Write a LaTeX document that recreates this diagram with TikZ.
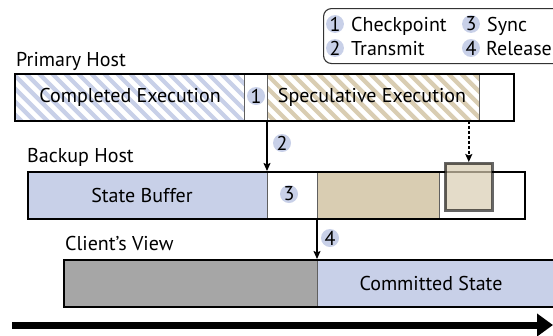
\documentclass[tikz,border=0pt]{standalone}
\usepackage{fontspec}
\setmainfont{PT Sans}
\usetikzlibrary{arrows.meta}

\definecolor{execblue}{RGB}{200,208,232}
\definecolor{spectan}{RGB}{217,205,178}
\definecolor{hidegray}{RGB}{166,166,166}
\definecolor{edgegray}{RGB}{95,95,95}

\tikzset{
  txt/.style={inner sep=0pt, font=\fontsize{20}{24}\selectfont},
  seg/.style={draw=edgegray, line width=0.7pt, minimum height=47pt, inner sep=0pt, anchor=north west},
  frame/.style={draw=black, line width=2.4pt, minimum height=47pt, inner sep=0pt, anchor=north west},
  hatched/.style={path picture={
      \foreach \k in {-60,-47,...,560}
        \draw[white, line width=4.6pt]
          ([xshift=\k pt]path picture bounding box.north west) -- ++(60,60);}},
  badge/.style={circle, fill=execblue, minimum size=18pt, inner sep=0pt, font=\fontsize{20}{24}\selectfont},
  keybadge/.style={badge, minimum size=16.5pt},
  hostlabel/.style={txt, anchor=base west},
  flow/.style={-{Stealth[length=8pt,width=7pt,inset=1.5pt]}, line width=1.5pt},
  newbox/.style={fill=spectan, fill opacity=0.7, draw=black, draw opacity=0.6, line width=2.6pt,
    minimum width=47pt, minimum height=47pt, inner sep=0pt, anchor=north west},
}

\begin{document}
\begin{tikzpicture}[x=1pt, y=-1pt]
  \useasboundingbox (0,0) rectangle (553,335);
  \clip (0,0) rectangle (553,335);

  % legend
  \node[draw=black!80, line width=1.1pt, rounded corners=8pt, minimum width=280pt, minimum height=55pt,
        anchor=north west, inner sep=0pt] (legend) at (323,8) {};
  \node[keybadge] (k1) at (335,24) {1};
  \node[hostlabel] (k1t) at (351,31) {Checkpoint};
  \node[keybadge] (k3) at (471,24) {3};
  \node[hostlabel] (k3t) at (487,31) {Sync};
  \node[keybadge] (k2) at (335,48) {2};
  \node[hostlabel] (k2t) at (351,55) {Transmit};
  \node[keybadge] (k4) at (471,48) {4};
  \node[hostlabel] (k4t) at (486,55) {Release};

  % primary host
  \node[hostlabel] (plabel) at (16,66) {Primary Host};
  \node[seg, fill=execblue, hatched, minimum width=230pt] (completed) at (14,73) {};
  \node[seg, minimum width=23pt] (ckpt) at (244,73) {};
  \node[seg, fill=spectan, hatched, minimum width=212pt] (spec) at (267,73) {};
  \node[seg, minimum width=34pt] (ptail) at (479,73) {};
  \node[frame, minimum width=499pt] (primary) at (14,73) {};
  \node[txt] (ctext) at (130,97) {Completed Execution};
  \node[txt] (stext) at (372,97) {Speculative Execution};
  \node[badge] (b1) at (256,96) {1};

  % backup host
  \node[hostlabel] (blabel) at (27,162) {Backup Host};
  \node[seg, fill=execblue, minimum width=240pt] (buffer) at (27,171) {};
  \node[seg, minimum width=50pt] (sync) at (267,171) {};
  \node[seg, fill=spectan, minimum width=122pt] (pending) at (317,171) {};
  \node[seg, minimum width=85pt] (btail) at (439,171) {};
  \node[frame, minimum width=497pt] (backup) at (27,171) {};
  \node[txt] (btext) at (142,195) {State Buffer};
  \node[badge] (b3) at (289,194) {3};
  \node[newbox] (incoming) at (444,162) {};

  % client view
  \node[hostlabel] (clabel) at (65,250) {Client’s View};
  \node[seg, fill=hidegray, minimum width=254pt] (hidden) at (63,259) {};
  \node[seg, fill=execblue, minimum width=300pt] (committed) at (317,259) {};
  \node[frame, minimum width=554pt] (client) at (63,259) {};
  \node[txt] (vtext) at (431,283) {Committed State};

  % transfers between hosts
  \draw[flow] (spec.south west) -- (sync.north west);
  \node[badge] (b2) at (282,143) {2};
  \draw[flow, dashed, dash pattern=on 3pt off 2pt] (incoming.north |- spec.south) -- (incoming.north);
  \draw[flow] (pending.south west) -- (committed.north west);
  \node[badge] (b4) at (330,238) {4};

  % time axis
  \coordinate (t0) at (12,325);
  \coordinate (t1) at (553,325);
  \draw[line width=7pt, -{Triangle[length=16pt,width=22pt]}] (t0) -- (t1);
\end{tikzpicture}
\end{document}
